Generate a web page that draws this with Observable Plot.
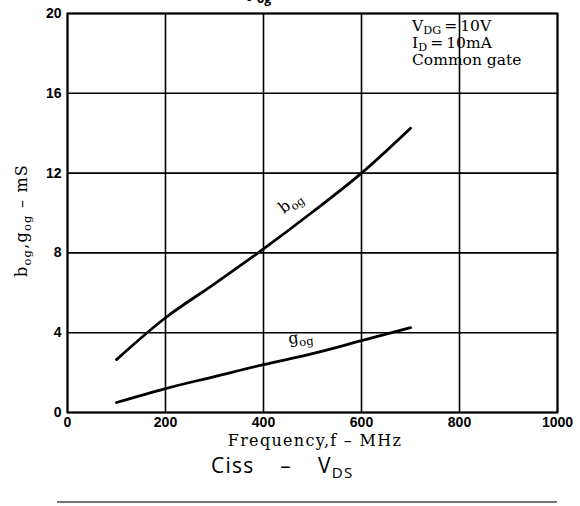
<!DOCTYPE html>
<html><head><meta charset="utf-8">
<script src="https://cdn.jsdelivr.net/npm/d3@7"></script>
<script src="https://cdn.jsdelivr.net/npm/@observablehq/plot@0.6"></script>
<style>
html,body{margin:0;padding:0;background:#fff;}
body{width:580px;height:506px;overflow:hidden;}
</style></head><body>
<div id="chart"></div>
<script>
// ---- data ----
const freqMHz = [100, 200, 300, 400, 500, 600, 700];
const bogValues = [2.65, 4.75, 6.45, 8.2, 10.05, 12.0, 14.25];
const gogValues = [0.5, 1.2, 1.8, 2.4, 2.95, 3.6, 4.25];
const xTicks = [0, 200, 400, 600, 800, 1000];
const yTicks = [0, 4, 8, 12, 16, 20];
const xLabel = [["Frequency,f \u2013 MHz", false]];
const yLabel = [["b", false], ["og", true], [",g", false], ["og", true], [" \u2013 mS", false]];
const conditionLines = [
  [["V", false], ["DG", true], ["\u2009=\u200910V", false]],
  [["I", false], ["D", true], ["\u2009=\u200910mA", false]],
  [["Common gate", false]]
];
const seriesLabels = [
  {name: "bog", parts: [["b", false], ["og", true]], at: 462, v: 10.3, angle: -37},
  {name: "gog", parts: [["g", false], ["og", true]], at: 478, v: 3.5, angle: -8}
];
const nextTitle = [["Ciss", false], ["\u2013", false], ["V", false], ["DS", true]];
const cutTitle = [["y", false], ["og", true], ["   \u2013   f", false]];

const rows = [];
freqMHz.forEach((f, i) => {
  rows.push({f, v: bogValues[i], s: "bog"});
  rows.push({f, v: gogValues[i], s: "gog"});
});

const W = 580, H = 506, mL = 67, mR = 23, mT = 13, mB = 94;
const tickFont = "'Liberation Sans', Arial, sans-serif";
const serif = "'DejaVu Serif', 'Liberation Serif', serif";
const sans = "'Open Sans', 'Liberation Sans', sans-serif";

const plot = Plot.plot({
  width: W, height: H,
  marginLeft: mL, marginRight: mR, marginTop: mT, marginBottom: mB,
  style: {background: "white", color: "black", overflow: "visible"},
  x: {domain: [0, 1000], label: null},
  y: {domain: [0, 20], label: null},
  marks: [
    Plot.gridX(xTicks, {stroke: "black", strokeOpacity: 1, strokeWidth: 1.6}),
    Plot.gridY(yTicks, {stroke: "black", strokeOpacity: 1, strokeWidth: 1.6}),
    Plot.frame({stroke: "black", strokeWidth: 2}),
    Plot.axisX(xTicks, {tickSize: 0, tickPadding: 5, fontSize: 14, fontWeight: "bold", fontFamily: tickFont, label: null, tickFormat: d => String(d)}),
    Plot.axisY(yTicks, {tickSize: 0, tickPadding: 6, fontSize: 14, fontWeight: "bold", fontFamily: tickFont, label: null, tickFormat: d => String(d)}),
    Plot.line(rows, {x: "f", y: "v", z: "s", stroke: "black", strokeWidth: 2.8, curve: "catmull-rom"})
  ]
});
document.getElementById("chart").appendChild(plot);

const sx = plot.scale("x"), sy = plot.scale("y");
const svg = d3.select(plot);

function richText(parent, parts, x, y, opts) {
  const t = parent.append("text")
    .attr("x", x).attr("y", y)
    .attr("font-family", opts.family)
    .attr("font-size", opts.size)
    .attr("font-weight", opts.weight || "normal")
    .attr("fill", "black")
    .attr("text-anchor", opts.anchor || "start");
  if (opts.spacing) t.attr("letter-spacing", opts.spacing);
  if (opts.transform) t.attr("transform", opts.transform);
  let shifted = 0;
  parts.forEach(([txt, sub], i) => {
    const target = sub ? opts.subShift : 0;
    const sp = t.append("tspan").text(txt).attr("dy", target - shifted);
    if (opts.gaps && i > 0 && opts.gaps[i]) sp.attr("dx", opts.gaps[i]);
    if (sub) sp.attr("font-size", opts.size * 0.72);
    shifted = target;
  });
  return t;
}

// x axis label
richText(svg, xLabel, (sx.apply(0) + sx.apply(1000)) / 2 + 3, H - mB + 34,
  {family: serif, size: 16, anchor: "middle", subShift: 4, spacing: 1.3});
// y axis label
{
  const cy = (sy.apply(0) + sy.apply(20)) / 2 + 8;
  richText(svg, yLabel, 0, 0,
    {family: serif, size: 16, anchor: "middle", subShift: 4, spacing: 1.2,
     transform: `translate(27,${cy}) rotate(-90)`});
}
// condition box text
conditionLines.forEach((line, i) => {
  richText(svg, line, W - mR - 145, mT + 18 + i * 17,
    {family: serif, size: 15.5, subShift: 3});
});
// curve labels
seriesLabels.forEach(d => {
  richText(svg, d.parts, 0, 0,
    {family: serif, size: 16, anchor: "middle", subShift: 4,
     transform: `translate(${sx.apply(d.at)},${sy.apply(d.v)}) rotate(${d.angle})`});
});
// title of the next chart below
richText(svg, nextTitle, 211, H - 33,
  {family: sans, size: 21, subShift: 5, spacing: 1.2, gaps: [0, 26, 26, 0]});
svg.append("line").attr("x1", 57).attr("x2", sx.apply(1000)).attr("y1", H - 4).attr("y2", H - 4)
  .attr("stroke", "#444").attr("stroke-width", 1.5);
// cut-off title above the chart
richText(svg, cutTitle, 247, -3,
  {family: sans, size: 17, weight: "bold", subShift: 6});
</script>
</body></html>
